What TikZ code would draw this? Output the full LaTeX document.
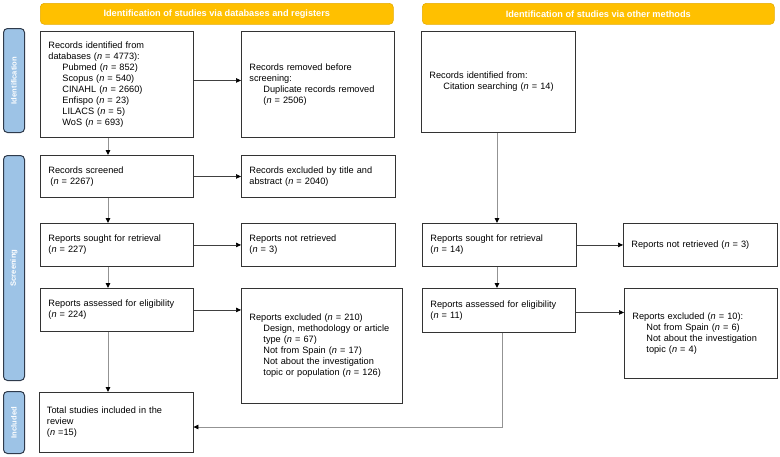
\documentclass[tikz,border=0pt]{standalone}
\usepackage{fontspec}
\setmainfont{Liberation Sans}
\usetikzlibrary{arrows.meta,calc}
\definecolor{bannerfill}{HTML}{FFC000}
\definecolor{bannerdraw}{HTML}{E6AC00}
\definecolor{sidefill}{HTML}{9DC3E6}
\definecolor{sidedraw}{HTML}{2F3B4C}
\definecolor{boxdraw}{HTML}{333333}
\newcommand\ind{\hspace*{14pt}}
\tikzset{
  x=1pt, y=-1pt,
  flowbox/.style={draw=boxdraw, line width=0.9pt, fill=white, anchor=north west,
    inner xsep=8pt, inner ysep=0pt, align=left,
    font=\fontsize{9.2}{11}\selectfont},
  banner/.style={draw=bannerdraw, line width=0.6pt, fill=bannerfill, rounded corners=4pt,
    anchor=north west, inner sep=0pt, text=white,
    font=\fontsize{9.2}{11}\selectfont\bfseries},
  sidebar/.style={draw=sidedraw, line width=1pt, fill=sidefill, rounded corners=4pt,
    anchor=north west, inner sep=0pt},
  sidetext/.style={rotate=90, text=white, font=\fontsize{7.6}{9}\selectfont\bfseries, inner sep=0pt},
  arrv/.style={draw=gray!85, line width=1pt, -{Triangle[length=5pt,width=4.5pt,color=black]}},
  arrh/.style={draw=black!75, line width=0.6pt, -{Triangle[length=5pt,width=4.5pt,color=black]}},
}
\begin{document}
\begin{tikzpicture}
\useasboundingbox (0,0) rectangle (780,456);

% banners
\node[banner, minimum width=353pt, minimum height=21pt] (banL) at (40,3)
  {Identification of studies via databases and registers};
\node[banner, minimum width=352pt, minimum height=21pt] (banR) at (422,3)
  {Identification of studies via other methods};

% side bars
\node[sidebar, minimum width=21pt, minimum height=104pt] (sideI) at (3,28) {};
\node[sidetext] at (sideI.center) {Identification};
\node[sidebar, minimum width=21pt, minimum height=225pt] (sideS) at (3,155) {};
\node[sidetext] at (sideS.center) {Screening};
\node[sidebar, minimum width=21pt, minimum height=62pt] (sideN) at (3,391) {};
\node[sidetext] at (sideN.center) {Included};

% boxes (text width = box width - 16pt)
\node[flowbox, minimum height=106pt, text width=137pt] (b1) at (40,31)
  {Records identified from\\databases (\textit{n} = 4773):\\
   \ind Pubmed (\textit{n} = 852)\\
   \ind Scopus (\textit{n} = 540)\\
   \ind CINAHL (\textit{n} = 2660)\\
   \ind Enfispo (\textit{n} = 23)\\
   \ind LILACS (\textit{n} = 5)\\
   \ind WoS (\textit{n} = 693)};
\node[flowbox, minimum height=106pt, text width=137pt] (b2) at (241,31)
  {Records removed before\\screening:\\
   \ind Duplicate records removed\\
   \ind (\textit{n} = 2506)};
\node[flowbox, minimum height=101pt, text width=138pt] (b3) at (421,31)
  {Records identified from:\\
   \ind Citation searching (\textit{n} = 14)};
\node[flowbox, minimum height=42pt, text width=137pt] (b4) at (40,155)
  {Records screened\\\hspace*{2pt}(\textit{n} = 2267)};
\node[flowbox, minimum height=42pt, text width=138pt] (b5) at (241,155)
  {Records excluded by title and\\abstract (\textit{n} = 2040)};
\node[flowbox, minimum height=43pt, text width=137pt] (b6) at (40,223)
  {Reports sought for retrieval\\(\textit{n} = 227)};
\node[flowbox, minimum height=43pt, text width=138pt] (b7) at (241,223)
  {Reports not retrieved\\(\textit{n} = 3)};
\node[flowbox, minimum height=43pt, text width=138pt] (b8) at (422,223)
  {Reports sought for retrieval\\(\textit{n} = 14)};
\node[flowbox, minimum height=43pt, text width=138pt] (b9) at (623,223)
  {Reports not retrieved (\textit{n} = 3)};
\node[flowbox, minimum height=43pt, text width=137pt] (b10) at (40,288)
  {Reports assessed for eligibility\\(\textit{n} = 224)};
\node[flowbox, minimum height=115pt, text width=145pt] (b11) at (241,288)
  {Reports excluded (\textit{n} = 210)\\
   \ind Design, methodology or article\\
   \ind type (\textit{n} = 67)\\
   \ind Not from Spain (\textit{n} = 17)\\
   \ind Not about the investigation\\
   \ind topic or population (\textit{n} = 126)};
\node[flowbox, minimum height=44pt, text width=137pt] (b12) at (422,288)
  {Reports assessed for eligibility\\(\textit{n} = 11)};
\node[flowbox, minimum height=90pt, text width=137pt] (b13) at (624,288)
  {Reports excluded (\textit{n} = 10):\\
   \ind Not from Spain (\textit{n} = 6)\\
   \ind Not about the investigation\\
   \ind topic (\textit{n} = 4)};
\node[flowbox, minimum height=60pt, text width=138pt] (b14) at (38.5,392)
  {Total studies included in the\\review\\(\textit{n} =15)};

% columns for vertical arrows
\coordinate (colL) at (108,0);
\coordinate (colR) at (497,0);
\coordinate (colR2) at (502,0);
\coordinate (rowJ) at (0,427);

% vertical arrows
\draw[arrv] (b1.south -| colL) -- (b4.north -| colL);
\draw[arrv] (b4.south -| colL) -- (b6.north -| colL);
\draw[arrv] (b6.south -| colL) -- (b10.north -| colL);
\draw[arrv] (b10.south -| colL) -- (b14.north -| colL);
\draw[arrv] (b3.south -| colR) -- (b8.north -| colR);
\draw[arrv] (b8.south -| colR) -- (b12.north -| colR);

% horizontal arrows
\draw[arrh] ([yshift=4pt]b1.east) -- ([yshift=4pt]b1.east -| b2.west);
\draw[arrh] (b4.east) -- (b4.east -| b5.west);
\draw[arrh] (b6.east) -- (b6.east -| b7.west);
\draw[arrh] (b8.east) -- (b8.east -| b9.west);
\draw[arrh] (b10.east) -- (b10.east -| b11.west);
\draw[arrh] ([yshift=-2pt]b12.east) -- ([yshift=-2pt]b12.east -| b13.west);
\draw[arrh, draw=gray!85, line width=0.8pt] (b12.south -| colR2) -- (colR2 |- rowJ) -- (rowJ -| b14.east);
\end{tikzpicture}
\end{document}
